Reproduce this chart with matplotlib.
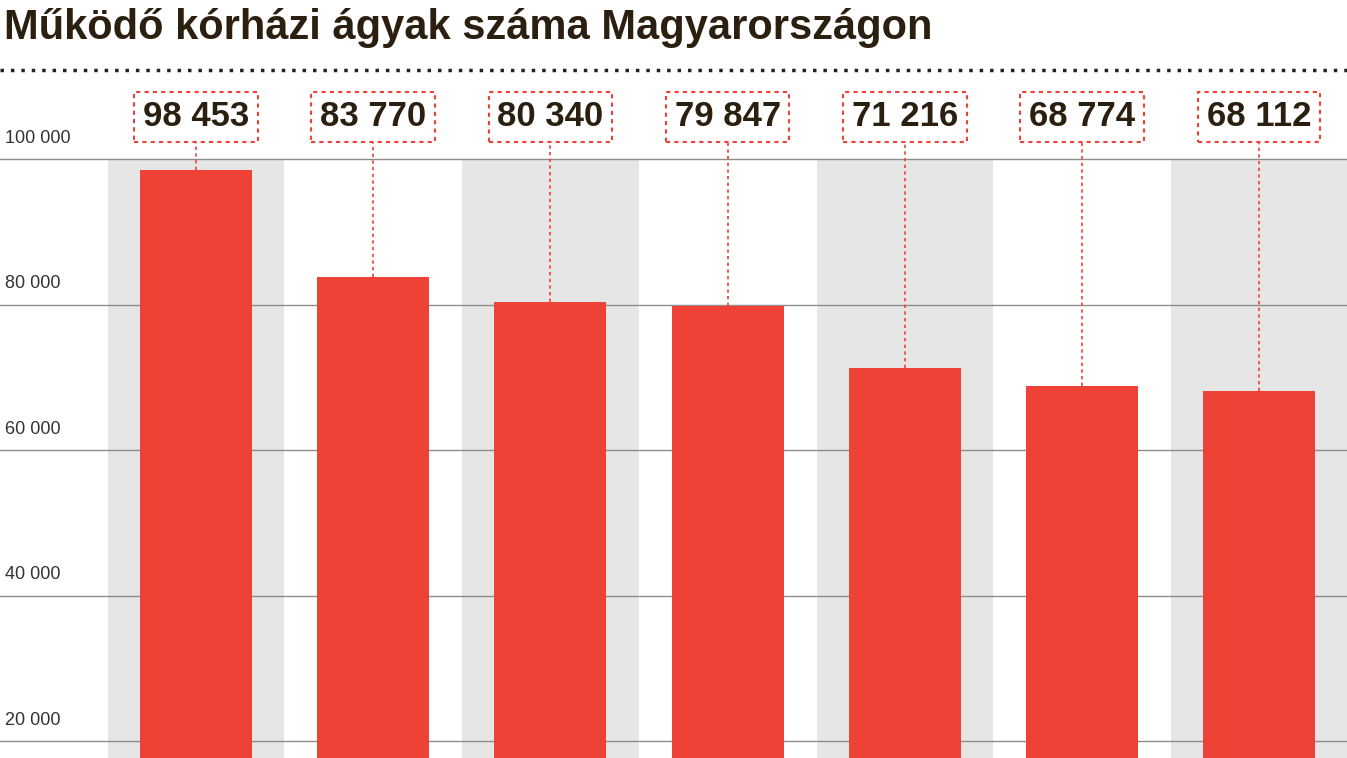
import matplotlib
matplotlib.use("Agg")
import matplotlib.pyplot as plt
from matplotlib.lines import Line2D

values = [98453, 83770, 80340, 79847, 71216, 68774, 68112]
labels = ["98 453", "83 770", "80 340", "79 847", "71 216", "68 774", "68 112"]
yticks = [20000, 40000, 60000, 80000, 100000]
ytick_labels = ["20 000", "40 000", "60 000", "80 000", "100 000"]

RED = "#ee4236"
DARK = "#2b1f10"
FONT = ["Liberation Sans Narrow", "Liberation Sans", "DejaVu Sans"]

fig = plt.figure(figsize=(13.47, 7.58), dpi=100)
ax = fig.add_axes([0, 0, 1, 1 - 80 / 758])
ymin, ymax = 17663, 110860
ax.set_ylim(ymin, ymax)
ax.set_xlim(-1.106, 6.495)
ax.axis("off")

# alternating grey bands
for i in range(len(values)):
    if i % 2 == 0:
        ax.bar(i, 100000 - ymin, bottom=ymin, width=0.995, color="#e6e6e6", zorder=0)

# gridlines and labels
for t, l in zip(yticks, ytick_labels):
    ax.axhline(t, color="#8c8c8c", lw=1, zorder=1)
    ax.text(0.004, t + 1700, l, transform=ax.get_yaxis_transform(), fontsize=13,
            color="#333333", family=FONT, va="bottom", ha="left")

ax.bar(range(len(values)), [v - ymin for v in values], bottom=ymin, width=0.632,
       color=RED, zorder=2)

for i, (v, l) in enumerate(zip(values, labels)):
    ax.plot([i, i], [v, 102600], color=RED, lw=1.2, ls=(0, (2, 2)), zorder=3)
    ax.text(i, 105800, l, ha="center", va="center", fontsize=25, fontweight="bold",
            color=DARK, family=FONT, zorder=4,
            bbox=dict(boxstyle="square,pad=0.25", fc="white", ec=RED, lw=1.5, ls=(0, (2, 2))))

fig.text(0.003, 1 - 28 / 758, "Működő kórházi ágyak száma Magyarországon", fontsize=30,
         fontweight="bold", color=DARK, family=FONT, va="center", ha="left")
fig.add_artist(Line2D([0, 1], [1 - 70 / 758] * 2, transform=fig.transFigure,
                      color="#222222", lw=2.5, ls=(0, (1, 2))))

fig.savefig("out.png", dpi=100)
